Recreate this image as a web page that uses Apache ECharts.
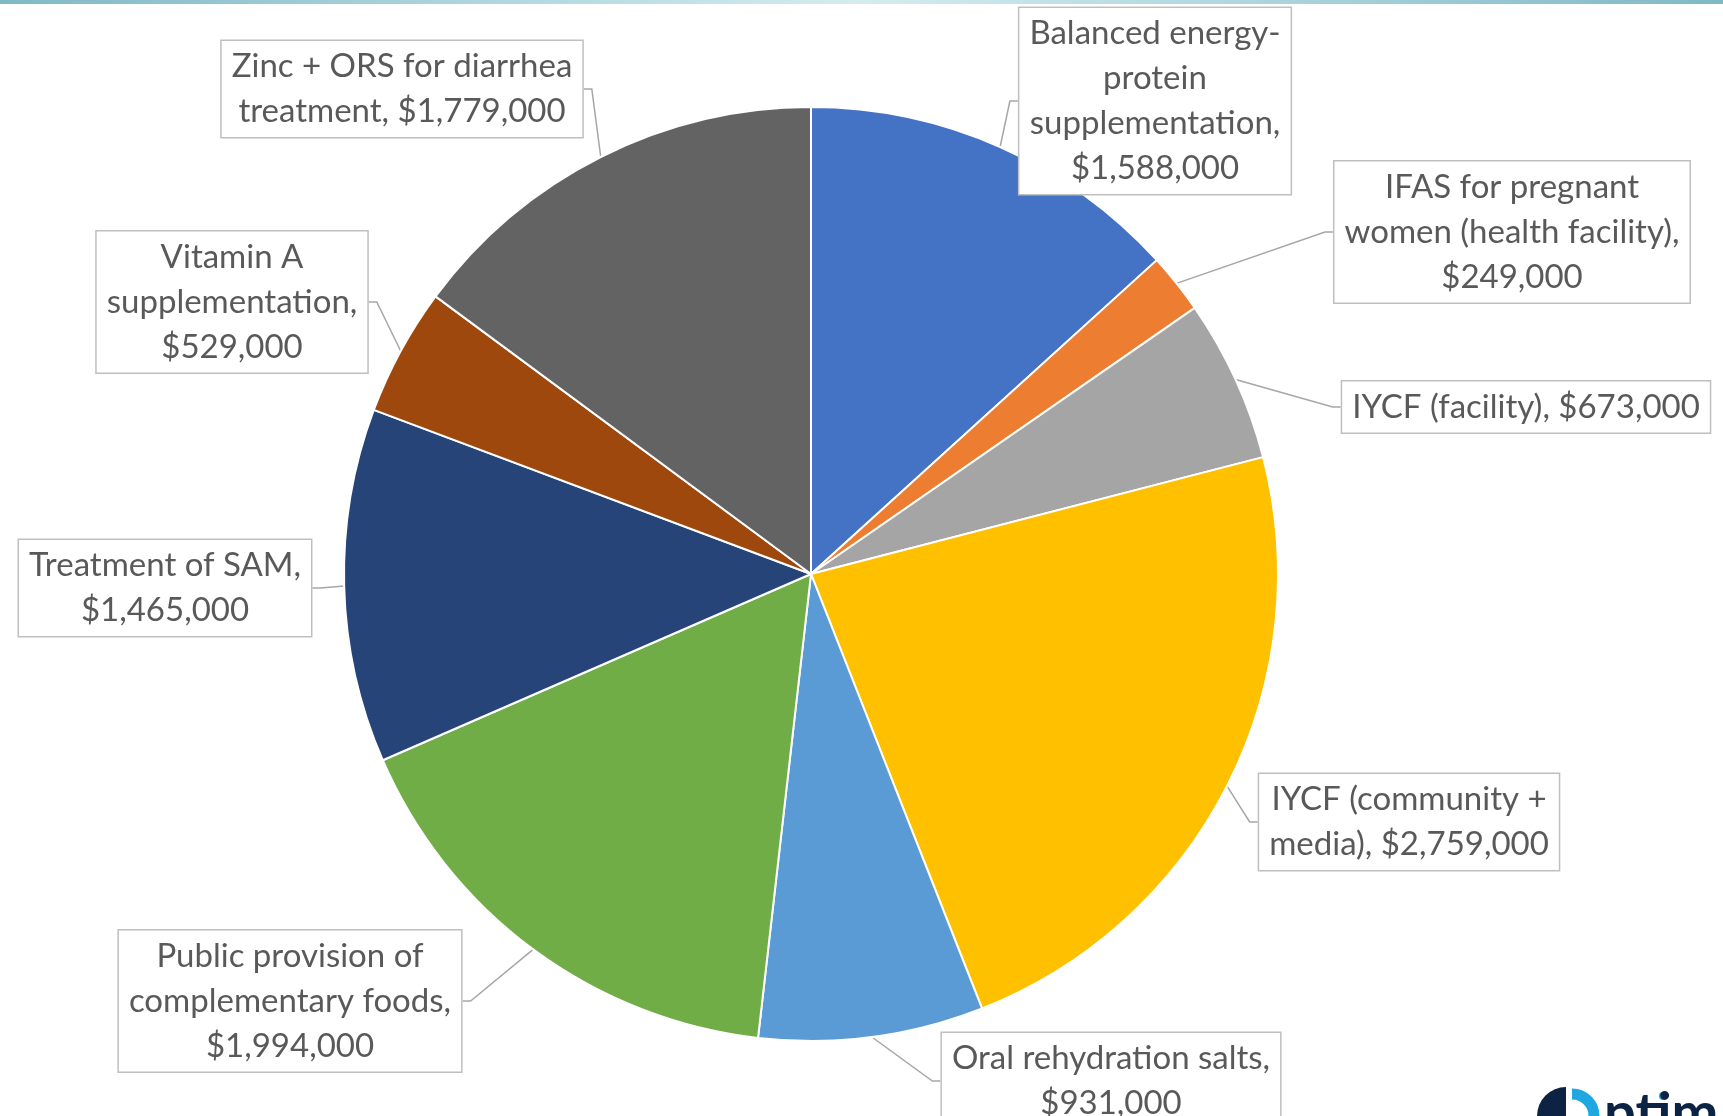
<!DOCTYPE html>
<html><head><meta charset="utf-8">
<script src="https://cdn.jsdelivr.net/npm/echarts@6/dist/echarts.min.js"></script>
<style>html,body{margin:0;padding:0;background:#fff;}#c{width:1723px;height:1116px;}</style>
</head><body><div id="c"></div>
<script>
const categories = ['Balanced energy-protein supplementation','IFAS for pregnant women (health facility)','IYCF (facility)','IYCF (community + media)','Oral rehydration salts','Public provision of complementary foods','Treatment of SAM','Vitamin A supplementation','Zinc + ORS for diarrhea treatment'];
const values = [1588000, 249000, 673000, 2759000, 931000, 1994000, 1465000, 529000, 1779000];
const labelTexts = ['Balanced energy-\nprotein\nsupplementation,\n$1,588,000','IFAS for pregnant\nwomen (health facility),\n$249,000','IYCF (facility), $673,000','IYCF (community +\nmedia), $2,759,000','Oral rehydration salts,\n$931,000','Public provision of\ncomplementary foods,\n$1,994,000','Treatment of SAM,\n$1,465,000','Vitamin A\nsupplementation,\n$529,000','Zinc + ORS for diarrhea\ntreatment, $1,779,000'];
const colors = ['#4472C4','#ED7D31','#A5A5A5','#FFC000','#5B9BD5','#70AD47','#264478','#9E480E','#636363'];
const labelCenters = [[1155,101],[1512,232],[1526,407],[1409,822],[1111,1081],[290,1001],[165,588],[232,302],[402,89]];

const chart = echarts.init(document.getElementById('c'));
chart.setOption({
  animation:false,
  graphic:[
    {type:'rect',shape:{x:0,y:0,width:1723,height:4},style:{fill:new echarts.graphic.LinearGradient(0,0,1,0,[{offset:0,color:'#7fb9c6'},{offset:0.5,color:'#d4ecf0'},{offset:1,color:'#7fb9c6'}])}},
    {type:'sector',shape:{cx:1566,cy:1116,r0:0,r:29,startAngle:Math.PI,endAngle:Math.PI*1.5},style:{fill:'#0d2344'}},
    {type:'arc',shape:{cx:1572,cy:1116,r:22,startAngle:-Math.PI/2,endAngle:0},style:{stroke:'#1ea7e1',lineWidth:11,fill:null}},
    {type:'circle',shape:{cx:1663,cy:1096,r:4},style:{fill:'#1ea7e1'}},
    {type:'text',left:1604,top:1086,style:{text:'ptim',font:'bold 56px Lato',fill:'#0d2344'}}
  ],
  series:[{
    type:'pie',
    center:[811,574],
    radius:[0,467],
    startAngle:90,
    clockwise:true,
    itemStyle:{borderColor:'#ffffff',borderWidth:2},
    data: categories.map((c,i)=>({name:c,value:values[i],itemStyle:{color:colors[i]}})),
    label:{
      show:true,
      formatter:(p)=>labelTexts[p.dataIndex],
      fontFamily:'Lato',
      fontSize:33,
      lineHeight:45,
      color:'#595959',
      align:'center',
      backgroundColor:'#ffffff',
      borderColor:'#bfbfbf',
      borderWidth:1.5,
      padding:[4,10,2,10]
    },
    labelLine:{show:true,length:12,length2:8,lineStyle:{color:'#a6a6a6',width:1.5}},
    labelLayout:(params)=>{
      const c = labelCenters[params.dataIndex];
      return {x:c[0],y:c[1],align:'center',verticalAlign:'middle'};
    }
  }]
});
</script></body></html>
